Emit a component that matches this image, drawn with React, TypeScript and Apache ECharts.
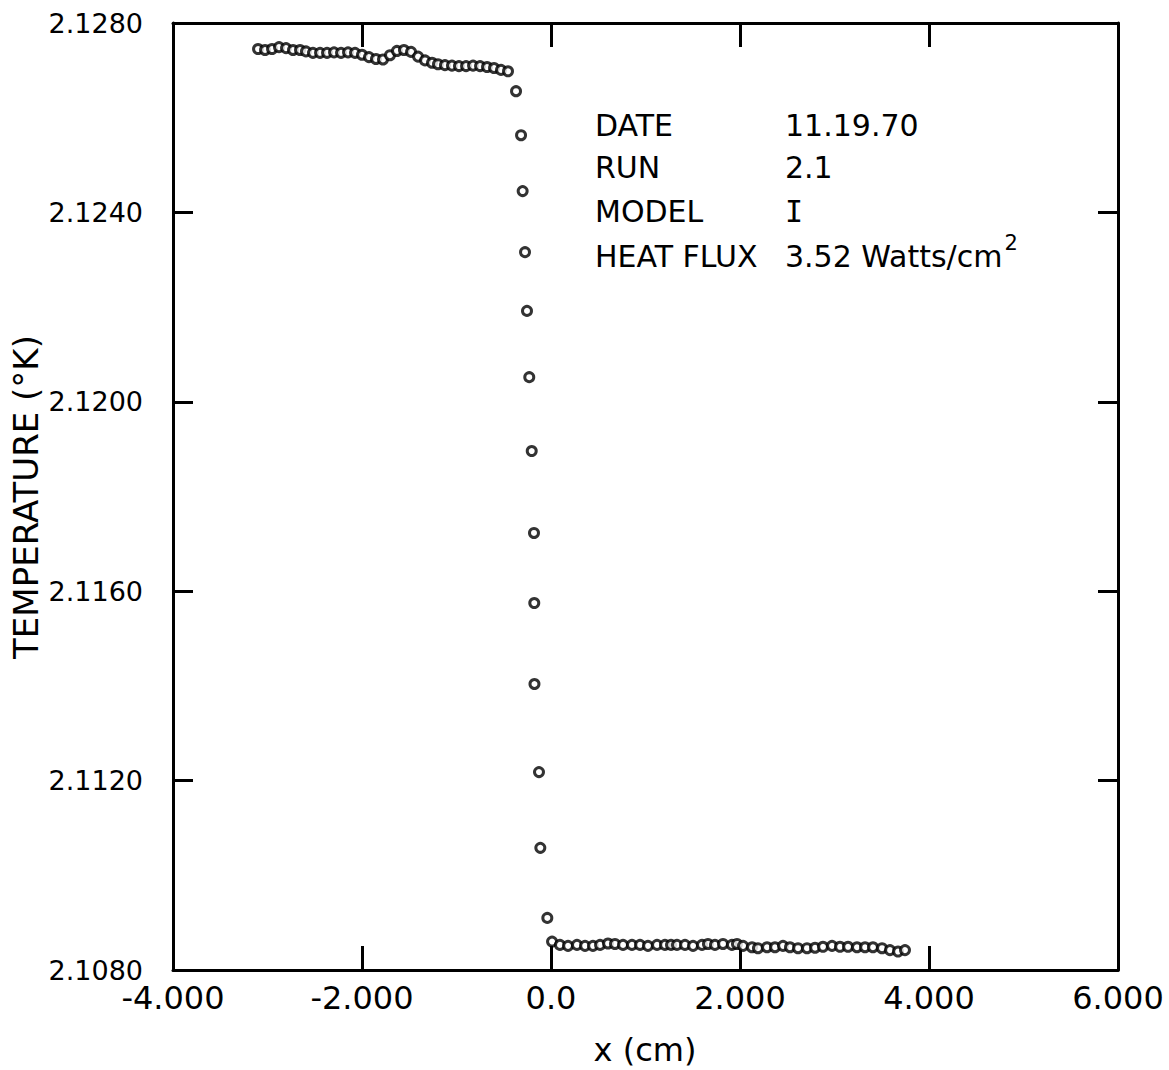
import React, { useEffect, useRef } from "react";
import * as echarts from "echarts";

// Upper plateau (x in cm, temperature in K)
const highX = [-3.100, -3.026, -2.952, -2.878, -2.804, -2.730, -2.656, -2.593, -2.519, -2.444, -2.370, -2.296, -2.222, -2.148, -2.074, -2.000, -1.926, -1.852, -1.778, -1.704, -1.630, -1.556, -1.481, -1.407, -1.333, -1.259, -1.196, -1.122, -1.048, -0.974, -0.899, -0.825, -0.751, -0.677, -0.603, -0.529, -0.455];
const highY = [2.12745, 2.12743, 2.12745, 2.12749, 2.12747, 2.12743, 2.12743, 2.12740, 2.12737, 2.12737, 2.12737, 2.12738, 2.12737, 2.12738, 2.12737, 2.12733, 2.12728, 2.12724, 2.12723, 2.12732, 2.12741, 2.12743, 2.12739, 2.12729, 2.12721, 2.12716, 2.12713, 2.12711, 2.12710, 2.12709, 2.12709, 2.12710, 2.12709, 2.12707, 2.12705, 2.12701, 2.12698];

// Transition
const dropX = [-0.370, -0.317, -0.300, -0.275, -0.254, -0.230, -0.204, -0.180, -0.177, -0.175, -0.127, -0.113, -0.039];
const dropY = [2.12656, 2.12563, 2.12445, 2.12316, 2.12192, 2.12052, 2.11896, 2.11723, 2.11575, 2.11404, 2.11218, 2.11058, 2.10910];

// Lower plateau
const lowX = [0.011, 0.095, 0.180, 0.275, 0.360, 0.444, 0.519, 0.603, 0.677, 0.762, 0.857, 0.942, 1.026, 1.122, 1.206, 1.270, 1.333, 1.418, 1.503, 1.598, 1.661, 1.735, 1.820, 1.915, 1.968, 2.032, 2.127, 2.190, 2.286, 2.370, 2.455, 2.529, 2.614, 2.709, 2.794, 2.878, 2.974, 3.058, 3.143, 3.238, 3.323, 3.407, 3.503, 3.587, 3.672, 3.746];
const lowY = [2.10860, 2.10853, 2.10851, 2.10853, 2.10851, 2.10851, 2.10853, 2.10856, 2.10855, 2.10853, 2.10853, 2.10853, 2.10851, 2.10853, 2.10853, 2.10853, 2.10853, 2.10853, 2.10851, 2.10853, 2.10855, 2.10853, 2.10855, 2.10853, 2.10855, 2.10851, 2.10848, 2.10846, 2.10848, 2.10848, 2.10851, 2.10848, 2.10846, 2.10846, 2.10847, 2.10849, 2.10851, 2.10849, 2.10849, 2.10848, 2.10848, 2.10848, 2.10846, 2.10842, 2.10839, 2.10842];

const xMin = -4, xMax = 6, xStep = 2;
const yMin = 2.108, yMax = 2.128, yStep = 0.004;

const infoLabels = ["DATE", "RUN", "MODEL", "HEAT FLUX"];
const infoValues = ["11.19.70", "2.1", "I", "3.52 Watts/cm"];
const fluxSup = "2";

const FONT = "DejaVu Sans";

const pairs = (xs: number[], ys: number[]) => xs.map((x, i) => [x, ys[i]]);

export default function App() {
  const ref = useRef<HTMLDivElement>(null);
  useEffect(() => {
    document.body.style.margin = "0";
    const chart = echarts.init(ref.current!, null, { renderer: "svg" });

    const axisLine = { show: true, onZero: false, lineStyle: { color: "#000", width: 3 } };
    const xTick = { show: true, inside: true, length: 24, lineStyle: { color: "#000", width: 3 } };
    const yTick = { show: true, inside: true, length: 20, lineStyle: { color: "#000", width: 3 } };

    const ctx = document.createElement("canvas").getContext("2d")!;
    ctx.font = `30px "${FONT}"`;
    const fluxW = ctx.measureText(infoValues[3]).width;

    const col1 = 595, col2 = 785;
    const rowY = [125, 167, 211, 256];

    const graphics: any[] = [];
    infoLabels.forEach((t, i) => {
      graphics.push({
        type: "text", x: col1, y: rowY[i],
        style: { text: t, font: `30px "${FONT}"`, fill: "#000", align: "left", verticalAlign: "middle" },
      });
      graphics.push({
        type: "text", x: col2, y: rowY[i],
        style: {
          text: infoValues[i],
          font: i === 2 ? `30px "DejaVu Sans Mono"` : `30px "${FONT}"`,
          fill: "#000", align: "left", verticalAlign: "middle",
        },
      });
    });
    graphics.push({
      type: "text", x: col2 + fluxW + 2, y: 232,
      style: { text: fluxSup, font: `21px "${FONT}"`, fill: "#000", align: "left", verticalAlign: "top" },
    });
    graphics.push({
      type: "text", x: 26, y: 497, rotation: Math.PI / 2,
      style: { text: "TEMPERATURE (°K)", font: `34px "${FONT}"`, fill: "#000", align: "center", verticalAlign: "middle" },
    });
    graphics.push({
      type: "text", x: 645, y: 1050,
      style: { text: "x (cm)", font: `32px "${FONT}"`, fill: "#000", align: "center", verticalAlign: "middle" },
    });

    const marker = {
      type: "scatter",
      symbol: "circle",
      symbolSize: 9,
      itemStyle: { color: "#fff", borderColor: "#000", borderWidth: 3 },
      xAxisIndex: 0,
      yAxisIndex: 0,
    };

    chart.setOption({
      animation: false,
      backgroundColor: "#fff",
      textStyle: { fontFamily: FONT },
      grid: { left: 173, top: 23, width: 945, height: 947, show: false },
      xAxis: [
        {
          type: "value", position: "bottom", min: xMin, max: xMax, interval: xStep,
          axisLine, axisTick: xTick, splitLine: { show: false },
          axisLabel: {
            formatter: (v: number) => (v === 0 ? "0.0" : v.toFixed(3)),
            fontSize: 32, color: "#000", margin: 12, fontFamily: FONT,
          },
        },
        {
          type: "value", position: "top", min: xMin, max: xMax, interval: xStep,
          axisLine, axisTick: xTick, splitLine: { show: false }, axisLabel: { show: false },
        },
      ],
      yAxis: [
        {
          type: "value", position: "left", min: yMin, max: yMax, interval: yStep,
          axisLine, axisTick: yTick, splitLine: { show: false },
          axisLabel: { formatter: (v: number) => v.toFixed(4), fontSize: 27, color: "#000", margin: 30, fontFamily: FONT },
        },
        {
          type: "value", position: "right", min: yMin, max: yMax, interval: yStep,
          axisLine, axisTick: yTick, splitLine: { show: false }, axisLabel: { show: false },
        },
      ],
      graphic: graphics,
      series: [
        { ...marker, name: "upper", data: pairs(highX, highY) },
        { ...marker, name: "transition", data: pairs(dropX, dropY) },
        { ...marker, name: "lower", data: pairs(lowX, lowY) },
      ],
    });
    return () => chart.dispose();
  }, []);
  return <div ref={ref} style={{ width: 1169, height: 1070 }} />;
}
